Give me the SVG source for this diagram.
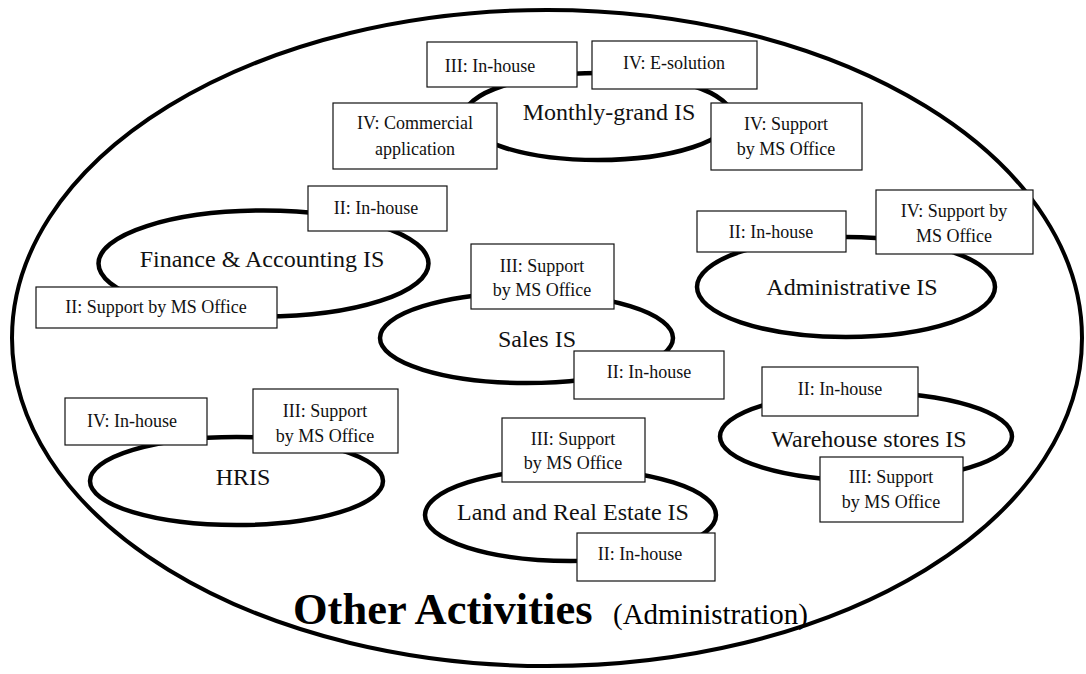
<svg xmlns="http://www.w3.org/2000/svg" width="1086" height="674" viewBox="0 0 1086 674">
  <style>
    .ring { fill: none; stroke: #000; stroke-width: 4.5; }
    .outer { fill: #fff; stroke: #000; stroke-width: 4; }
    .box { fill: #fff; stroke: #111; stroke-width: 1.2; }
    .lbl { font-family: "Liberation Serif", "Times New Roman", serif; font-size: 18px; fill: #111; text-anchor: middle; }
    .sys { font-family: "Liberation Serif", "Times New Roman", serif; font-size: 24px; fill: #111; text-anchor: middle; }
    .big { font-family: "Liberation Serif", "Times New Roman", serif; fill: #000; }
  </style>
  <rect width="1086" height="674" fill="#fff"/>

  <!-- enclosing activity area -->
  <g id="other-activities">
    <ellipse class="outer" cx="547" cy="338" rx="535" ry="328"/>
    <text class="big" x="293" y="624" font-weight="bold" font-size="44.5">Other Activities</text>
    <text class="big" x="613" y="624" font-size="29">(Administration)</text>
  </g>

  <!-- links between systems (none drawn separately) -->
  <g id="connectors"></g>

  <g id="monthly-grand">
    <ellipse class="ring" cx="598" cy="116.5" rx="134" ry="43.5"/>
    <text class="sys" x="609" y="120">Monthly-grand IS</text>
    <rect class="box" x="427" y="42" width="150" height="45"/>
    <text class="lbl" x="490" y="72">III: In-house</text>
    <rect class="box" x="592" y="41" width="165" height="48"/>
    <text class="lbl" x="674" y="69">IV: E-solution</text>
    <rect class="box" x="333" y="103" width="164" height="66"/>
    <text class="lbl" x="415" y="129">IV: Commercial</text>
    <text class="lbl" x="415" y="155">application</text>
    <rect class="box" x="711" y="103" width="151" height="67"/>
    <text class="lbl" x="786" y="130">IV: Support</text>
    <text class="lbl" x="786" y="155">by MS Office</text>
  </g>

  <g id="finance">
    <ellipse class="ring" cx="263.5" cy="263.5" rx="165" ry="53"/>
    <text class="sys" x="262" y="267">Finance &amp; Accounting IS</text>
    <rect class="box" x="308" y="186" width="139" height="45"/>
    <text class="lbl" x="376" y="214">II: In-house</text>
    <rect class="box" x="36" y="287" width="241" height="41"/>
    <text class="lbl" x="156" y="313">II: Support by MS Office</text>
  </g>

  <g id="administrative">
    <ellipse class="ring" cx="846" cy="287" rx="149" ry="50"/>
    <text class="sys" x="852" y="295">Administrative IS</text>
    <rect class="box" x="697" y="211" width="149" height="41"/>
    <text class="lbl" x="771" y="238">II: In-house</text>
    <rect class="box" x="876" y="190" width="157" height="64"/>
    <text class="lbl" x="954" y="217">IV: Support by</text>
    <text class="lbl" x="954" y="242">MS Office</text>
  </g>

  <g id="sales">
    <ellipse class="ring" cx="526.5" cy="338" rx="146.5" ry="45"/>
    <text class="sys" x="537" y="347">Sales IS</text>
    <rect class="box" x="471" y="244" width="143" height="65"/>
    <text class="lbl" x="542" y="272">III: Support</text>
    <text class="lbl" x="542" y="296">by MS Office</text>
    <rect class="box" x="574" y="351" width="150" height="48"/>
    <text class="lbl" x="649" y="378">II: In-house</text>
  </g>

  <g id="hris">
    <ellipse class="ring" cx="236.5" cy="481" rx="146.5" ry="44"/>
    <text class="sys" x="243" y="485">HRIS</text>
    <rect class="box" x="65" y="398" width="142" height="47"/>
    <text class="lbl" x="132" y="427">IV: In-house</text>
    <rect class="box" x="253" y="389" width="145" height="64"/>
    <text class="lbl" x="325" y="417">III: Support</text>
    <text class="lbl" x="325" y="442">by MS Office</text>
  </g>

  <g id="land-real-estate">
    <ellipse class="ring" cx="570.5" cy="515" rx="145.5" ry="46"/>
    <text class="sys" x="573" y="520">Land and Real Estate IS</text>
    <rect class="box" x="502" y="418" width="143" height="64"/>
    <text class="lbl" x="573" y="445">III: Support</text>
    <text class="lbl" x="573" y="469">by MS Office</text>
    <rect class="box" x="577" y="533" width="138" height="48"/>
    <text class="lbl" x="640" y="560">II: In-house</text>
  </g>

  <g id="warehouse">
    <ellipse class="ring" cx="866" cy="436.5" rx="146" ry="44"/>
    <text class="sys" x="869" y="447">Warehouse stores IS</text>
    <rect class="box" x="762" y="367" width="156" height="49"/>
    <text class="lbl" x="840" y="395">II: In-house</text>
    <rect class="box" x="820" y="457" width="143" height="65"/>
    <text class="lbl" x="891" y="483">III: Support</text>
    <text class="lbl" x="891" y="508">by MS Office</text>
  </g>
</svg>
